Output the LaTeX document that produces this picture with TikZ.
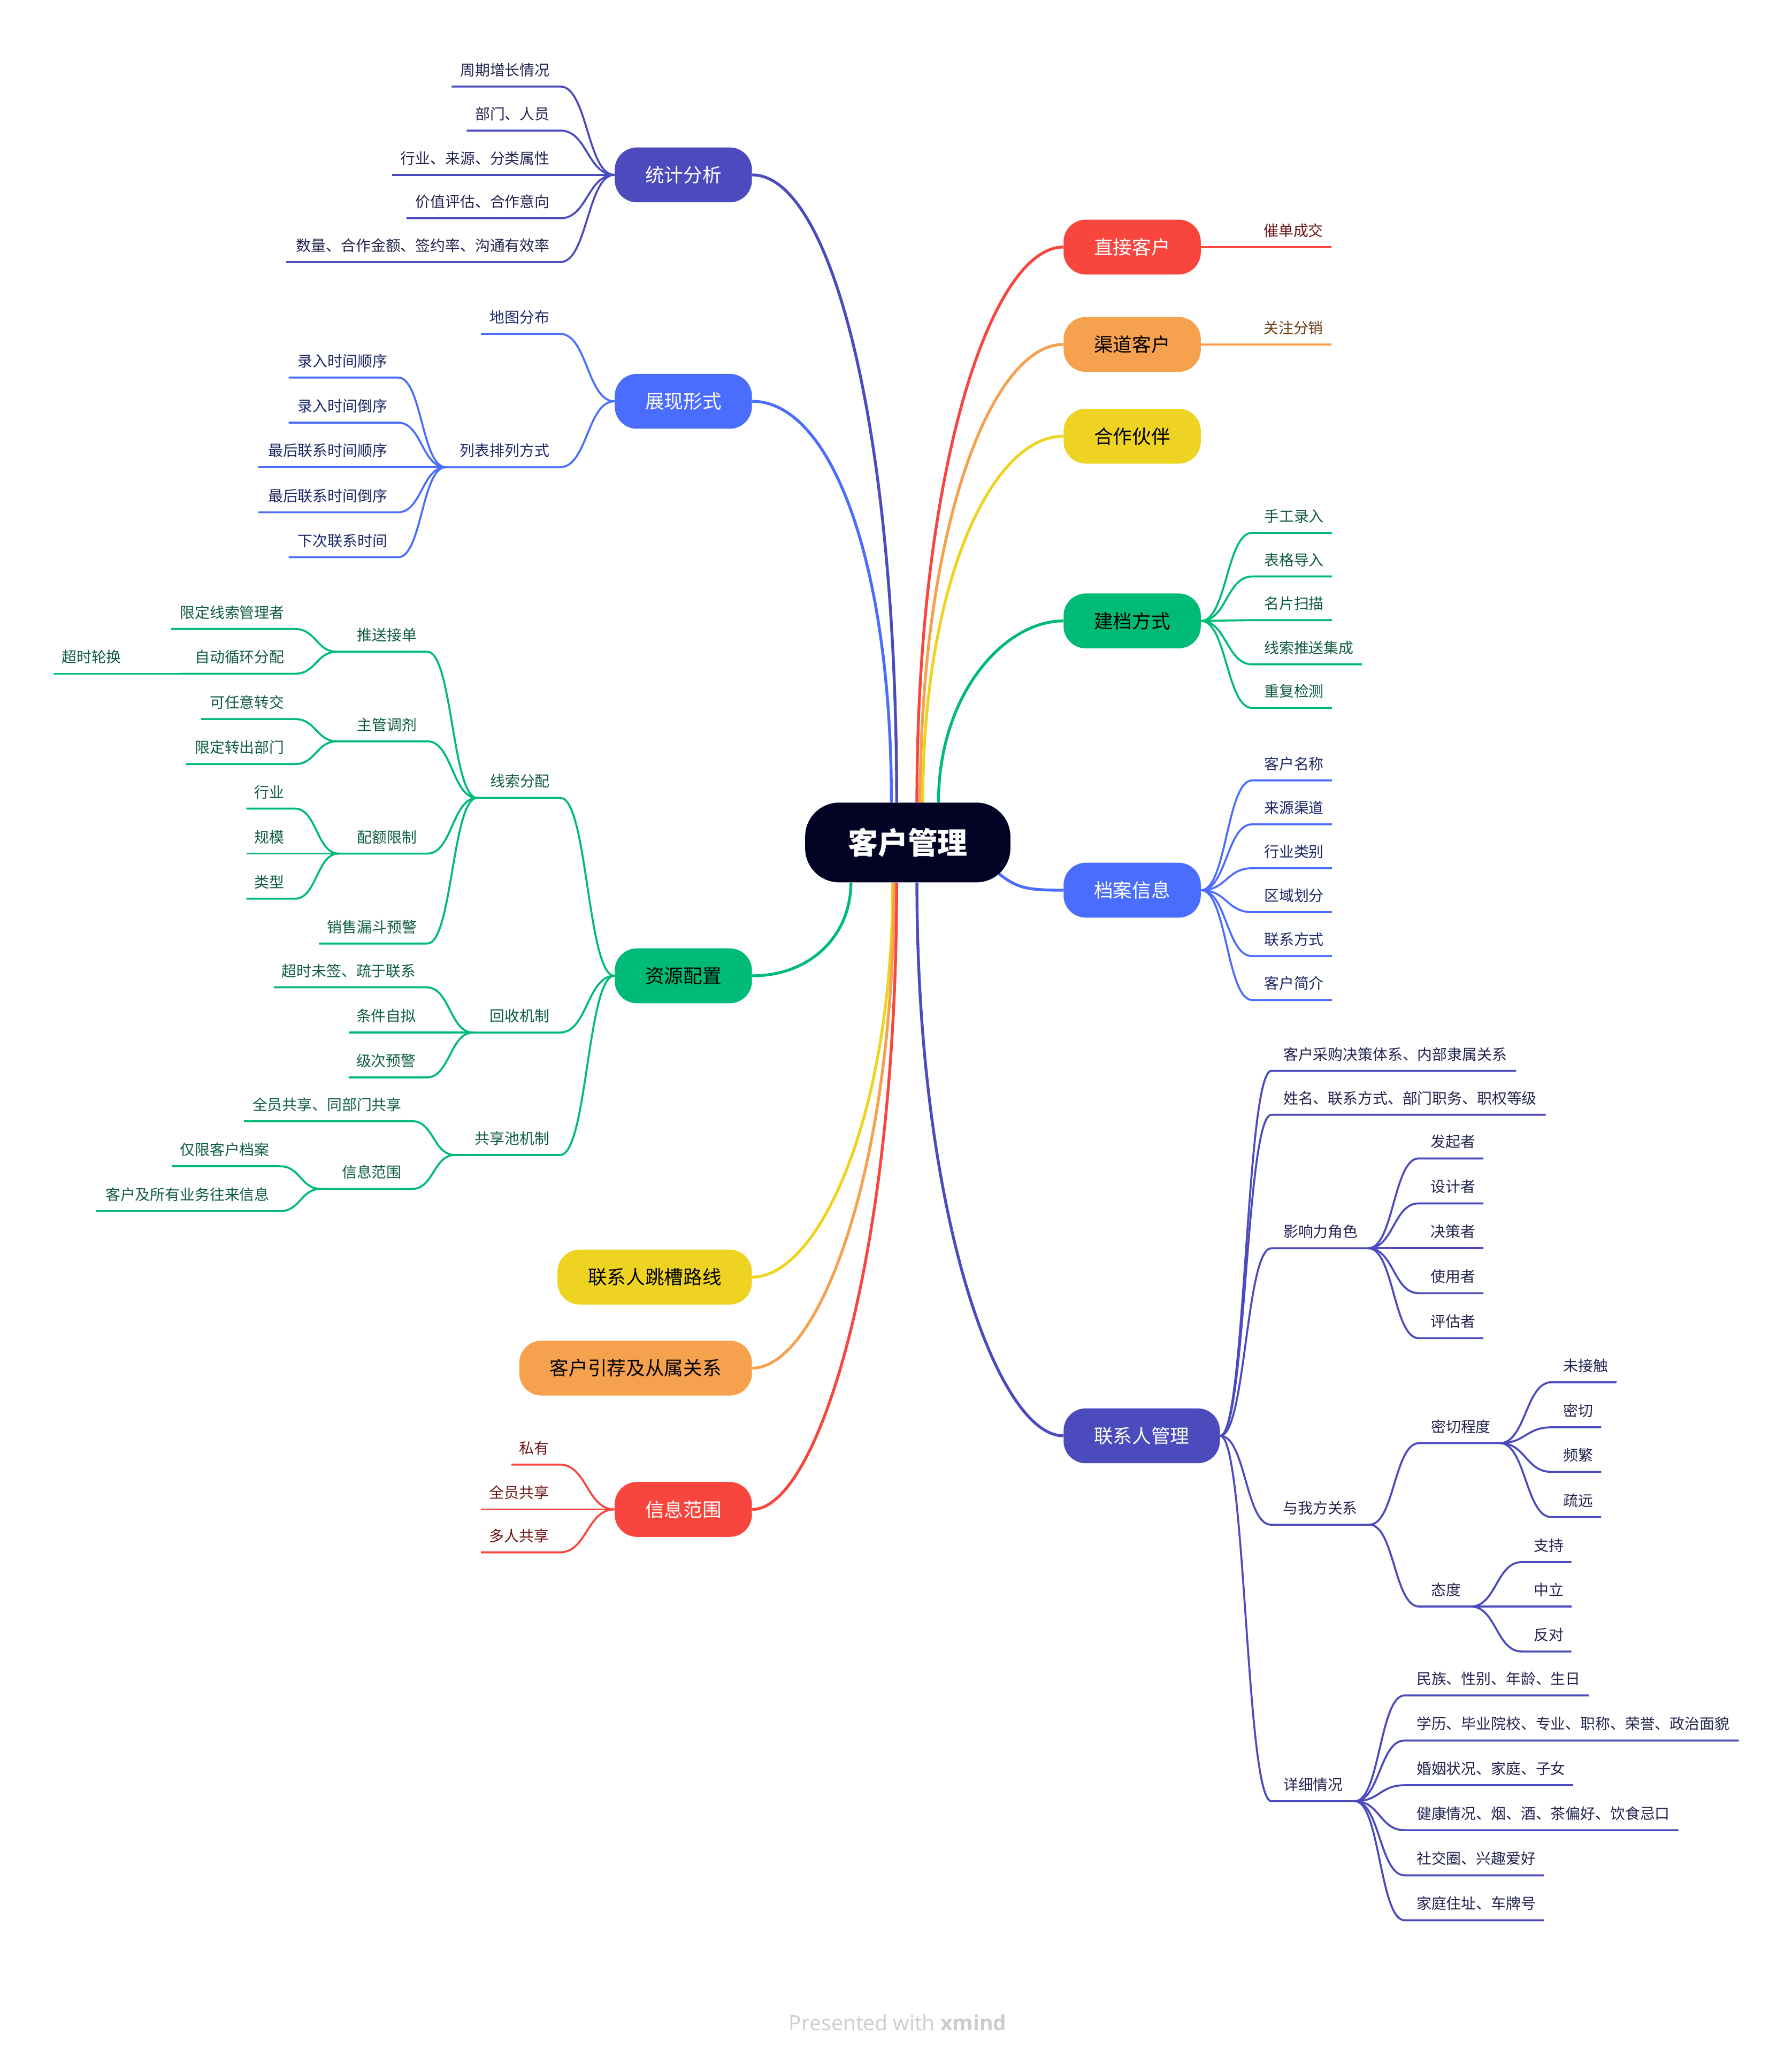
\documentclass[tikz,border=0pt]{standalone}
\usepackage{fontspec}
\newfontfamily\cjk{Noto Sans CJK SC}
\newfontfamily\ftfont{Open Sans}
\usetikzlibrary{calc,backgrounds}
\definecolor{cIndigo}{HTML}{4C4BBE}
\definecolor{cIndigoT}{HTML}{22224F}
\definecolor{cBlue}{HTML}{4B6DFE}
\definecolor{cBlueT}{HTML}{1B2766}
\definecolor{cGreen}{HTML}{00BB77}
\definecolor{cGreenT}{HTML}{0E5C3C}
\definecolor{cRed}{HTML}{F8463F}
\definecolor{cRedT}{HTML}{6B1414}
\definecolor{cOrange}{HTML}{F5A14E}
\definecolor{cOrangeT}{HTML}{6B3D12}
\definecolor{cYellow}{HTML}{EFD322}
\definecolor{cCenter}{HTML}{020324}
\definecolor{cFoot}{HTML}{CCCCCC}
\tikzset{
 sc/.style={to path={let \p1=(\tikztostart),\p2=(\tikztotarget) in .. controls ({(\x1+\x2)/2},\y1) and ({(\x1+\x2)/2},\y2) .. (\tikztotarget)}},
 lf/.style={inner sep=0pt, font=\cjk\fontsize{11.4pt}{13pt}\selectfont},
 br/.style={rounded corners=17pt, minimum height=42pt, inner xsep=23.3pt, inner ysep=0pt, font=\cjk\fontsize{14.6pt}{16pt}\selectfont},
 mc/.style={line width=2.2pt, draw=#1},
 ll/.style={line width=1.5pt, draw=#1},
}
\newcommand\LeafL[7]{%
 \node[lf, text=c#7T, anchor=base east] (#1) at (#3,#4-8.4) {#2};
 \coordinate (#1a) at (#3+8,#4);
 \coordinate (#1b) at (#5,#4);
 \draw[ll=c#7] (#6) to[sc] (#1a) -- (#1b);
}
\newcommand\LeafR[7]{%
 \node[lf, text=c#7T, anchor=base west] (#1) at (#3,#4-8.4) {#2};
 \coordinate (#1a) at (#3-9,#4);
 \coordinate (#1b) at (#5,#4);
 \draw[ll=c#7] (#6) to[sc] (#1a) -- (#1b);
}
\begin{document}
\begin{tikzpicture}[x=1pt,y=-1pt]
\useasboundingbox (0,0) rectangle (1371,1568.27);
% center
\node[fill=cCenter, text=white, rounded corners=26pt, minimum height=61pt, inner xsep=32.7pt, inner ysep=0pt, font=\cjk\bfseries\fontsize{22.9pt}{26pt}\selectfont] (c) at (694.5,644.5) {客户管理};
% branch nodes left
\node[br, fill=cIndigo, text=white, anchor=east] (tj) at (575.5,133.8) {统计分析};
\node[br, fill=cBlue, text=white, anchor=east] (zx) at (575.5,307) {展现形式};
\node[br, fill=cGreen, text=black, anchor=east] (zy) at (575.5,746.5) {资源配置};
\node[br, fill=cYellow, text=black, anchor=east] (tc) at (575.5,977) {联系人跳槽路线};
\node[br, fill=cOrange, text=black, anchor=east] (yj) at (575.5,1046.6) {客户引荐及从属关系};
\node[br, fill=cRed, text=white, anchor=east] (xx) at (575.5,1154.7) {信息范围};
% branch nodes right
\node[br, fill=cRed, text=white, anchor=west] (zj) at (813.5,189) {直接客户};
\node[br, fill=cOrange, text=black, anchor=west] (qd) at (813.5,263.5) {渠道客户};
\node[br, fill=cYellow, text=black, anchor=west] (hz) at (813.5,333.7) {合作伙伴};
\node[br, fill=cGreen, text=black, anchor=west] (jd) at (813.5,475) {建档方式};
\node[br, fill=cBlue, text=white, anchor=west] (da) at (813.5,681) {档案信息};
\node[br, fill=cIndigo, text=white, anchor=west] (lx) at (813.5,1098.4) {联系人管理};
% attachment points on center
\coordinate (cnB) at ($(c.north)+(-12.5,0)$);
\coordinate (cnI) at ($(c.north)+(-8.5,0)$);
\coordinate (cnR) at ($(c.north)+(7,0)$);
\coordinate (cnO) at ($(c.north)+(9.5,0)$);
\coordinate (cnY) at ($(c.north)+(11.5,0)$);
\coordinate (cnG) at ($(c.north)+(23.5,0)$);
\coordinate (csG) at ($(c.south)+(-43.5,0)$);
\coordinate (csY) at ($(c.south)+(-11.5,0)$);
\coordinate (csO) at ($(c.south)+(-10.5,0)$);
\coordinate (csR) at ($(c.south)+(-8.5,0)$);
\coordinate (csI) at ($(c.south)+(7,0)$);
\coordinate (ceB) at (762.5,667);
\begin{scope}[on background layer]
\fill[white] (0,0) rectangle (1371,1568.27);
\draw[mc=cIndigo] (cnI) .. controls +(0,-289) and +(60,0) .. (tj.east);
\draw[mc=cBlue] (cnB) .. controls +(0,-185) and +(60,0) .. (zx.east);
\draw[mc=cRed] (cnR) .. controls +(0,-255) and +(-55,0) .. (zj.west);
\draw[mc=cOrange] (cnO) .. controls +(0,-210) and +(-55,0) .. (qd.west);
\draw[mc=cYellow] (cnY) .. controls +(0,-168) and +(-55,0) .. (hz.west);
\draw[mc=cGreen] (cnG) .. controls +(0,-83) and +(-45,0) .. (jd.west);
\draw[mc=cBlue] (ceB) .. controls +(15,12) and +(-30,0) .. (da.west);
\draw[mc=cGreen] (csG) .. controls +(0,40) and +(45,0) .. (zy.east);
\draw[mc=cYellow] (csY) .. controls +(0,181) and +(50,0) .. (tc.east);
\draw[mc=cOrange] (csO) .. controls +(0,223) and +(50,0) .. (yj.east);
\draw[mc=cRed] (csR) .. controls +(0,288) and +(50,0) .. (xx.east);
\draw[mc=cIndigo] (csI) .. controls +(0,254) and +(-50,0) .. (lx.west);
\end{scope}
% 统计分析
\LeafL{tja}{周期增长情况}{420.7}{66.2}{345.6}{tj.west}{Indigo}
\LeafL{tjb}{部门、人员}{420.7}{99.9}{357}{tj.west}{Indigo}
\LeafL{tjc}{行业、来源、分类属性}{420.7}{133.8}{300}{tj.west}{Indigo}
\LeafL{tjd}{价值评估、合作意向}{420.7}{167}{311}{tj.west}{Indigo}
\LeafL{tje}{数量、合作金额、签约率、沟通有效率}{420.7}{200.5}{219}{tj.west}{Indigo}
% 展现形式
\LeafL{zxa}{地图分布}{420.5}{255.4}{368}{zx.west}{Blue}
\LeafL{lb}{列表排列方式}{420.5}{357.4}{341}{zx.west}{Blue}
\LeafL{lba}{录入时间顺序}{296.5}{288.8}{220.8}{lbb}{Blue}
\LeafL{lbc}{录入时间倒序}{296.5}{323.3}{220.8}{lbb}{Blue}
\LeafL{lbd}{最后联系时间顺序}{296.5}{357.4}{197.7}{lbb}{Blue}
\LeafL{lbe}{最后联系时间倒序}{296.5}{391.9}{197.7}{lbb}{Blue}
\LeafL{lbf}{下次联系时间}{296.5}{426.3}{220.8}{lbb}{Blue}
% 资源配置
\LeafL{xs}{线索分配}{420.8}{610.4}{365}{zy.west}{Green}
\LeafL{ts}{推送接单}{319}{498.6}{258}{xsb}{Green}
\LeafL{tsa}{限定线索管理者}{217.7}{481.2}{131}{tsb}{Green}
\LeafL{tsc}{自动循环分配}{217.7}{515.4}{138}{tsb}{Green}
\LeafL{tsd}{超时轮换}{93}{515.4}{41}{tscb}{Green}
\LeafL{zg}{主管调剂}{319}{567.1}{258}{xsb}{Green}
\LeafL{zga}{可任意转交}{217.7}{550.1}{153.7}{zgb}{Green}
\LeafL{zgc}{限定转出部门}{217.7}{584.5}{142.2}{zgb}{Green}
\LeafL{pe}{配额限制}{319}{653}{259}{xsb}{Green}
\LeafL{pea}{行业}{217.7}{618.6}{188.5}{peb}{Green}
\LeafL{pec}{规模}{217.7}{653}{188.5}{peb}{Green}
\LeafL{ped}{类型}{217.7}{687.5}{188.5}{peb}{Green}
\LeafL{xl}{销售漏斗预警}{319}{721.8}{244}{xsb}{Green}
\LeafL{hs}{回收机制}{420.5}{789.9}{362}{zy.west}{Green}
\LeafL{hsa}{超时未签、疏于联系}{318.4}{755.3}{209.6}{hsb}{Green}
\LeafL{hsc}{条件自拟}{318.4}{789.9}{266.8}{hsb}{Green}
\LeafL{hsd}{级次预警}{318.4}{824.2}{266.8}{hsb}{Green}
\LeafL{gx}{共享池机制}{420.5}{883.6}{348}{zy.west}{Green}
\LeafL{gxa}{全员共享、同部门共享}{307.4}{857.7}{186.7}{gxb}{Green}
\LeafL{gxc}{信息范围}{307.4}{909.5}{245.5}{gxb}{Green}
\LeafL{gxd}{仅限客户档案}{206.3}{892.2}{131.4}{gxcb}{Green}
\LeafL{gxe}{客户及所有业务往来信息}{206.3}{926.5}{73.7}{gxcb}{Green}
% 信息范围
\LeafL{xxa}{私有}{420.1}{1120.4}{391.3}{xx.west}{Red}
\LeafL{xxc}{全员共享}{420.1}{1154.7}{368}{xx.west}{Red}
\LeafL{xxd}{多人共享}{420.1}{1187.6}{368}{xx.west}{Red}
% right side
\LeafR{zja}{催单成交}{966.6}{189}{1018.6}{zj.east}{Red}
\LeafR{qda}{关注分销}{966.6}{263.5}{1018.6}{qd.east}{Orange}
\LeafR{jda}{手工录入}{967}{407.6}{1019}{jd.east}{Green}
\LeafR{jdc}{表格导入}{967}{441}{1019}{jd.east}{Green}
\LeafR{jdd}{名片扫描}{967}{474.4}{1019}{jd.east}{Green}
\LeafR{jde}{线索推送集成}{967}{508.2}{1042}{jd.east}{Green}
\LeafR{jdf}{重复检测}{967}{541.6}{1019}{jd.east}{Green}
\LeafR{daa}{客户名称}{967}{597}{1019}{da.east}{Blue}
\LeafR{dac}{来源渠道}{967}{630.6}{1019}{da.east}{Blue}
\LeafR{dad}{行业类别}{967}{664.2}{1019}{da.east}{Blue}
\LeafR{dae}{区域划分}{967}{697.8}{1019}{da.east}{Blue}
\LeafR{daf}{联系方式}{967}{731.4}{1019}{da.east}{Blue}
\LeafR{dag}{客户简介}{967}{765}{1019}{da.east}{Blue}
% 联系人管理
\LeafR{lxa}{客户采购决策体系、内部隶属关系}{981.7}{819.2}{1160}{lx.east}{Indigo}
\LeafR{lxc}{姓名、联系方式、部门职务、职权等级}{981.7}{852.8}{1182.6}{lx.east}{Indigo}
\LeafR{yl}{影响力角色}{981.7}{954.9}{1046.9}{lx.east}{Indigo}
\LeafR{yla}{发起者}{1094.4}{886.2}{1134.9}{ylb}{Indigo}
\LeafR{ylc}{设计者}{1094.4}{920.6}{1134.9}{ylb}{Indigo}
\LeafR{yld}{决策者}{1094.4}{954.9}{1134.9}{ylb}{Indigo}
\LeafR{yle}{使用者}{1094.4}{989.3}{1134.9}{ylb}{Indigo}
\LeafR{ylf}{评估者}{1094.4}{1023.7}{1134.9}{ylb}{Indigo}
\LeafR{wf}{与我方关系}{981.4}{1166.4}{1047.7}{lx.east}{Indigo}
\LeafR{mq}{密切程度}{1094.7}{1104}{1147.5}{wfb}{Indigo}
\LeafR{mqa}{未接触}{1196}{1057.4}{1236.7}{mqb}{Indigo}
\LeafR{mqc}{密切}{1196}{1091.9}{1225}{mqb}{Indigo}
\LeafR{mqd}{频繁}{1196}{1126}{1225}{mqb}{Indigo}
\LeafR{mqe}{疏远}{1196}{1160.6}{1225}{mqb}{Indigo}
\LeafR{td}{态度}{1094.7}{1229}{1125.2}{wfb}{Indigo}
\LeafR{tda}{支持}{1173.3}{1195}{1202.2}{tdb}{Indigo}
\LeafR{tdc}{中立}{1173.3}{1229}{1202.2}{tdb}{Indigo}
\LeafR{tdd}{反对}{1173.3}{1263.4}{1202.2}{tdb}{Indigo}
\LeafR{xq}{详细情况}{981.7}{1377.9}{1036.6}{lx.east}{Indigo}
\LeafR{xqa}{民族、性别、年龄、生日}{1083.6}{1297}{1215.5}{xqb}{Indigo}
\LeafR{xqc}{学历、毕业院校、专业、职称、荣誉、政治面貌}{1083.6}{1331.5}{1330.3}{xqb}{Indigo}
\LeafR{xqd}{婚姻状况、家庭、子女}{1083.6}{1365.7}{1203.6}{xqb}{Indigo}
\LeafR{xqe}{健康情况、烟、酒、茶偏好、饮食忌口}{1083.6}{1400.1}{1284.1}{xqb}{Indigo}
\LeafR{xqf}{社交圈、兴趣爱好}{1083.6}{1434.6}{1181}{xqb}{Indigo}
\LeafR{xqg}{家庭住址、车牌号}{1083.6}{1469}{1181}{xqb}{Indigo}
% footer
\node[font=\ftfont\fontsize{16pt}{18pt}\selectfont, text=cFoot, inner sep=0pt] (ft) at (686.8,1547.5) {Presented with \textbf{xmind}};
\end{tikzpicture}
\end{document}
